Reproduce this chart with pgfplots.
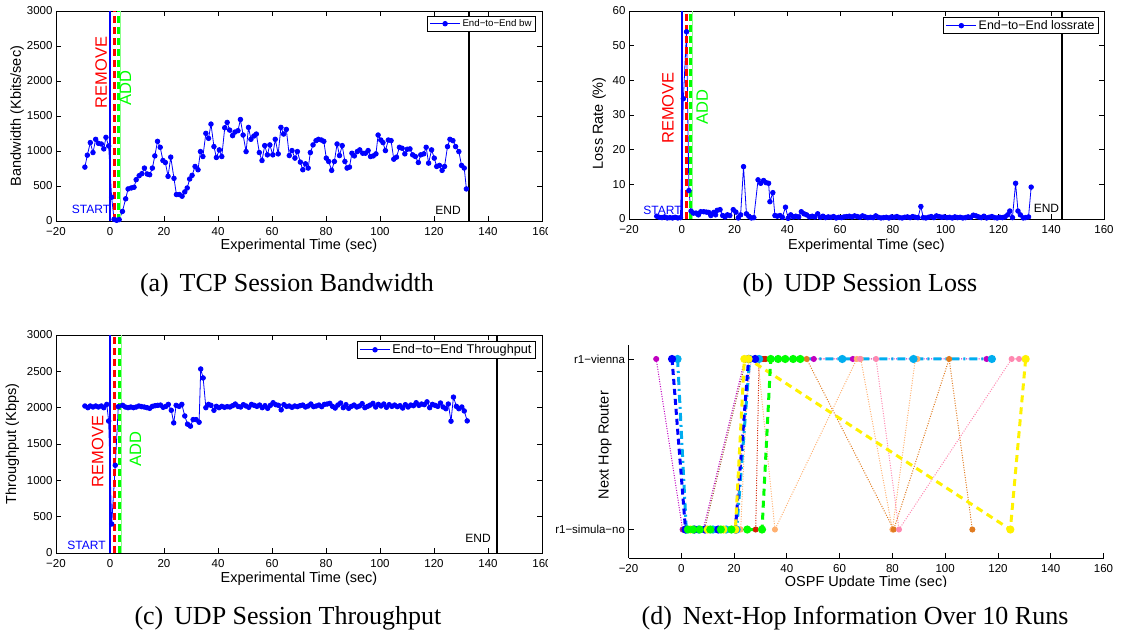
\documentclass[border=0pt]{standalone}
\usepackage{fontspec}
\setmainfont{Liberation Sans}
\newfontfamily\capfont{Liberation Serif}
\usepackage{pgfplots}
\pgfplotsset{compat=1.18}

\definecolor{mg}{RGB}{192,0,192}
\definecolor{dred}{RGB}{210,30,0}
\definecolor{brn}{RGB}{160,96,48}
\definecolor{org}{RGB}{224,123,32}
\definecolor{pch}{RGB}{255,176,112}
\definecolor{pnk}{RGB}{255,136,176}

\tikzset{
  lbl/.style={font=\fontsize{16.5}{18}\selectfont,rotate=90,anchor=center},
  sml/.style={font=\fontsize{12}{14}\selectfont,anchor=center},
}
\pgfplotsset{
  mstyle/.style={
    scale only axis,
    axis line style={line width=0.9pt},
    tick align=inside,
    major tick length=5pt,
    tick style={line width=0.8pt,black},
    xmin=-20, xmax=160,
    xtick={-20,0,...,160},
    xticklabels={−20,0,20,40,60,80,100,120,140,160},
    tick label style={font=\fontsize{11.5}{13}\selectfont},
    xticklabel style={anchor=center,yshift=-11pt,inner sep=1pt},
    label style={font=\fontsize{14.5}{16}\selectfont,inner sep=1pt},
    scaled ticks=false,
    legend cell align=left,
    legend image code/.code={\draw[mark repeat=2,mark phase=2,#1] plot coordinates {(0pt,0pt) (15pt,0pt) (30pt,0pt)};},
  },
  dat/.style={blue,line width=0.8pt,mark=*,mark size=2.3pt,mark options={fill=blue,draw=blue,solid}},
  startl/.style={blue,line width=2.5pt,forget plot},
  reml/.style={red,line width=3pt,dash pattern=on 7pt off 4pt,forget plot},
  addl/.style={green,line width=3pt,dash pattern=on 7pt off 4pt,forget plot},
  addt/.style={green!45,line width=0.8pt,forget plot},
  endl/.style={black,line width=2pt,forget plot},
  run/.style={mark=*,mark size=2.5pt,mark options={solid,fill=#1,draw=#1},color=#1},
  dots/.style={line width=1pt,dash pattern=on 1pt off 1.5pt},
}

\begin{document}
\begin{tikzpicture}[x=1pt,y=1pt]
\path[use as bounding box] (0,0) rectangle (1130,637);

% (a) TCP session bandwidth
\begin{axis}[mstyle, at={(56pt,416pt)}, anchor=south west,
  width=486pt, height=210pt,
  ymin=0, ymax=3000, ytick={0,500,...,3000},
  yticklabels={0,500,1000,1500,2000,2500,3000},
  xlabel={Experimental Time (sec)}, ylabel={Bandwidth (Kbits/sec)},
  xlabel style={at={(axis description cs:0.5,-0.118)},anchor=center},
  ylabel style={at={(axis description cs:-0.08,0.5)},anchor=center},
  legend style={at={(1,1)},anchor=north east,xshift=-6pt,yshift=-5pt,draw=black,line width=0.9pt,
    font=\fontsize{9.7}{11}\selectfont,inner xsep=2pt,inner ysep=1pt}]
\addplot[dat] coordinates {
(-9.3,770) (-8.4,940) (-7.3,1120) (-6.3,978) (-5.3,1167) (-4.3,1110) (-3.2,1100) (-2.3,1030)
(-1.5,1195) (-0.5,1072) (0.6,340) (1.5,24) (2.45,10) (3.4,20) (4.6,137) (5.8,317) (6.7,458)
(7.9,472) (8.9,482) (9.7,590) (10.8,647) (11.8,676) (12.75,756) (13.8,671) (14.7,661) (15.7,756)
(16.6,930) (17.6,1138) (18.6,1053) (19.6,864) (20.5,836) (21.5,638) (22.5,912) (23.7,609)
(24.6,378) (25.7,378) (26.7,354) (27.7,416) (28.6,472) (29.5,600) (30.4,652) (31.5,779)
(32.6,732) (33.5,992) (34.4,921) (35.5,1252) (36.5,1181) (37.4,1384) (38.5,1063) (39.4,907)
(40.5,1016) (41.4,921) (42.5,1332) (43.4,1408) (44.3,1299) (45.4,1219) (46.3,1271) (47.4,1290)
(48.3,1450) (49.3,1228) (50.4,992) (51.3,1337) (52.2,1167) (53.3,1214) (54.2,1242) (55.3,978)
(56.3,864) (57.3,1077) (58.3,945) (59.2,1087) (60.3,945) (61.2,1167) (62.3,959) (63.3,1337)
(64.3,1242) (65.3,1308) (66.4,935) (67.4,1006) (68.5,898) (69.4,992) (70.5,841) (71.4,732)
(72.4,817) (73.4,756) (74.2,978) (75.2,1087) (76.3,1148) (77.2,1167) (78.3,1157) (79.2,1138)
(80.1,898) (81.0,850) (82.1,723) (83.1,850) (84.1,1100) (85.0,935) (86.0,1077) (87.0,850)
(87.8,756) (88.7,770) (89.6,968) (90.5,930) (91.6,992) (92.5,1016) (93.6,968) (94.6,968)
(95.6,1006) (96.5,921) (97.5,930) (98.5,959) (99.3,1228) (100.3,1157) (101.1,1120) (102.0,1006)
(103.1,1157) (104.1,1148) (105.1,883) (106.1,912) (107.2,1053) (108.2,1039) (109.2,959)
(110.1,1025) (111.1,1030) (112.1,945) (113.1,921) (114.2,836) (115.1,945) (116.2,959)
(117.1,1053) (118.0,827) (119.1,1016) (120.1,898) (121.0,779) (122.0,794) (123.0,723)
(123.9,779) (125.0,1063) (125.9,1167) (127.0,1148) (128.0,1063) (129.2,992) (130.2,794)
(131.2,756) (132.0,458)};
\addlegendentry{End−to−End bw}
\addplot[startl] coordinates {(0,0) (0,3000)};
\addplot[reml] coordinates {(1.8,0) (1.8,3000)};
\addplot[addl] coordinates {(3.3,0) (3.3,3000)};
\addplot[addt] coordinates {(4.0,0) (4.0,3000)};
\addplot[endl] coordinates {(133,0) (133,3000)};
\node[lbl,red] at (axis cs:-3.3,2120) {REMOVE};
\node[lbl,green] at (axis cs:5.7,1900) {ADD};
\node[sml,blue] at (axis cs:-7,171) {START};
\node[sml] at (axis cs:125.2,150) {END};
\end{axis}

% (b) UDP session loss
\begin{axis}[mstyle, at={(629pt,418pt)}, anchor=south west,
  width=475pt, height=208pt,
  ymin=0, ymax=60, ytick={0,10,...,60},
  yticklabels={0,10,20,30,40,50,60},
  xlabel={Experimental Time (sec)}, ylabel={Loss Rate (\%)},
  xlabel style={at={(axis description cs:0.5,-0.128)},anchor=center},
  ylabel style={at={(axis description cs:-0.063,0.46)},anchor=center},
  legend style={at={(1,1)},anchor=north east,xshift=-5pt,yshift=-6pt,draw=black,line width=0.9pt,
    font=\fontsize{12.4}{14}\selectfont,inner xsep=2pt,inner ysep=1pt}]
\addplot[dat] coordinates {
(-9.5,0.8) (-8.5,0.5) (-7.5,0.4) (-6.5,0.6) (-5.5,0.3) (-4.5,0.4) (-3.5,0.3) (-2.5,0.5)
(-1.5,0.3) (-0.5,0.4) (0.6,34.7) (1.8,54) (2.7,8.2) (3.5,2.3) (4.4,1.7) (5.4,1.7) (6.3,1.2)
(7.2,2.1) (8.3,2.1) (9.3,2.0) (10.2,1.9) (11.0,1.0) (12.1,1.9) (12.8,1.2) (13.4,2.5) (14.5,2.7)
(15.5,1.0) (16.4,0.6) (17.3,1.2) (18.2,1.0) (19.5,2.7) (20.5,2.0) (21.4,0.3) (22.3,1.2)
(23.4,15.1) (24.5,1.5) (25.4,0.8) (26.4,0.3) (27.3,0.4) (28.9,11.3) (29.9,10.3) (31.0,11.1)
(31.9,10.5) (32.9,10.3) (33.4,5.0) (34.5,7.6) (35.3,1.0) (36.2,0.8) (37.2,1.0) (38.1,0.5)
(39.3,3.4) (40.3,0.2) (41.3,1.2) (42.3,0.6) (43.2,0.8) (44.3,0.6) (45.3,2.1) (46.3,1.5)
(47.3,1.2) (48.4,0.6) (49.4,0.8) (50.4,0.6) (51.5,1.5) (52.5,0.5) (53.5,0.8) (54.5,0.4)
(55.5,0.6) (56.5,0.5) (57.5,0.7) (58.5,0.3) (59.5,0.5) (60.5,0.4) (61.5,0.6) (62.5,0.7)
(63.5,0.8) (64.5,0.6) (65.5,0.9) (66.5,0.7) (67.5,0.5) (68.5,0.9) (69.5,0.6) (70.5,0.4)
(71.5,0.5) (72.5,0.4) (73.5,0.9) (74.5,0.5) (75.5,0.3) (76.5,0.4) (77.5,0.5) (78.5,0.3)
(79.5,0.6) (80.5,0.5) (81.5,0.7) (82.5,0.4) (83.5,0.3) (84.5,0.5) (85.5,0.6) (86.5,0.4)
(87.5,0.7) (88.5,0.5) (89.5,0.4) (90.6,3.6) (91.5,0.4) (92.5,0.3) (93.5,0.5) (94.5,0.7)
(95.5,0.4) (96.5,0.9) (97.5,0.7) (98.5,0.5) (99.5,0.6) (100.5,0.4) (101.5,0.5) (102.5,0.3)
(103.5,0.6) (104.5,0.4) (105.5,0.5) (106.5,0.3) (107.5,0.4) (108.5,0.6) (109.5,0.5)
(110.5,1.1) (111.5,0.9) (112.5,0.6) (113.5,0.4) (114.5,0.8) (115.5,0.3) (116.5,0.5)
(117.5,0.7) (118.5,0.4) (119.5,0.3) (120.5,0.5) (121.5,0.4) (122.5,0.6) (123.5,1.2)
(124.3,2.3) (125.3,0.4) (126.5,10.3) (127.4,2.3) (128.3,1.2) (129.4,0.3) (130.3,0.4)
(131.4,0.6) (132.4,9.2)};
\addlegendentry{End−to−End lossrate}
\addplot[startl] coordinates {(0,0) (0,60)};
\addplot[reml] coordinates {(1.8,0) (1.8,60)};
\addplot[addl] coordinates {(3.4,0) (3.4,60)};
\addplot[addt] coordinates {(4.1,0) (4.1,60)};
\addplot[endl] coordinates {(144,0) (144,60)};
\node[lbl,red] at (axis cs:-5.2,32) {REMOVE};
\node[lbl,green] at (axis cs:7.7,32.3) {ADD};
\node[sml,blue] at (axis cs:-7.3,2.6) {START};
\node[sml] at (axis cs:138.2,3.0) {END};
\end{axis}

% (c) UDP session throughput
\begin{axis}[mstyle, at={(56pt,84pt)}, anchor=south west,
  width=486pt, height=218pt,
  ymin=0, ymax=3000, ytick={0,500,...,3000},
  yticklabels={0,500,1000,1500,2000,2500,3000},
  xlabel={Experimental Time (sec)}, ylabel={Throughput (Kbps)},
  xlabel style={at={(axis description cs:0.5,-0.118)},anchor=center},
  ylabel style={at={(axis description cs:-0.09,0.5)},anchor=center},
  legend style={at={(1,1)},anchor=north east,xshift=-6pt,yshift=-6pt,draw=black,line width=0.9pt,
    font=\fontsize{12.7}{14}\selectfont,inner xsep=2pt,inner ysep=1pt}]
\addplot[dat] coordinates {
(-9.3,2023) (-8.2,2000) (-7.3,2023) (-6.3,2009) (-5.3,2023) (-4.3,2009) (-3.2,2023) (-2.3,2000)
(-1.2,2045) (-0.5,1816) (0.63,399) (1.96,1207) (3.07,2013) (4.7,2032) (5.7,2009) (6.7,2000)
(7.7,2009) (8.7,2000) (9.7,2009) (10.7,2023) (11.7,2014) (12.7,2009) (13.7,2000) (14.7,1991)
(15.7,2018) (16.7,2027) (17.7,2032) (18.7,2036) (19.7,2005) (20.7,2018) (21.6,2045) (22.7,1964)
(23.6,1791) (24.5,2032) (25.6,2018) (26.6,2045) (27.7,1886) (28.7,1773) (29.8,1745) (30.8,1836)
(31.9,1836) (33.0,1800) (33.6,2532) (34.5,2409) (35.5,2000) (36.5,2045) (37.4,2032) (38.5,1964)
(39.4,2018) (40.4,2000) (41.4,2018) (42.4,2005) (43.4,2014) (44.4,2009) (45.4,2027) (46.4,2050)
(47.4,2018) (48.4,2009) (49.4,2041) (50.4,2023) (51.4,2005) (52.4,2045) (53.4,2032) (54.4,2018)
(55.4,2036) (56.4,2000) (57.4,2027) (58.4,1991) (59.4,2032) (60.4,2068) (61.4,2041) (62.4,2032)
(63.4,1970) (64.4,2041) (65.4,2018) (66.4,2023) (67.4,2005) (68.4,2023) (69.4,2014) (70.4,2027)
(71.4,2036) (72.4,2009) (73.4,2023) (74.4,2050) (75.4,2014) (76.4,2023) (77.4,2036) (78.4,2014)
(79.4,2045) (80.4,2050) (81.4,2059) (82.4,2018) (83.4,1995) (84.4,2036) (85.4,2064) (86.4,2000)
(87.4,2041) (88.4,1991) (89.4,2018) (90.4,2036) (91.4,2009) (92.4,2023) (93.4,2055) (94.4,2000)
(95.4,2018) (96.4,2036) (97.4,2059) (98.4,2009) (99.4,2045) (100.4,2023) (101.4,2050)
(102.4,2005) (103.4,2041) (104.4,2018) (105.4,2036) (106.4,2014) (107.4,2027) (108.4,1995)
(109.4,2041) (110.4,2009) (111.4,2036) (112.4,2027) (113.4,2068) (114.4,2032) (115.4,2050)
(116.4,2041) (117.4,2080) (118.4,2000) (119.4,2045) (120.4,2032) (121.4,2018) (122.4,2064)
(123.4,2009) (124.4,1986) (125.3,2050) (126.3,1814) (127.2,2145) (128.3,2018) (129.2,1986)
(130.3,2009) (131.2,1955) (132.3,1818)};
\addlegendentry{End−to−End Throughput}
\addplot[startl] coordinates {(0,0) (0,3000)};
\addplot[reml] coordinates {(1.8,0) (1.8,3000)};
\addplot[addl] coordinates {(3.4,0) (3.4,3000)};
\addplot[addt] coordinates {(4.1,0) (4.1,3000)};
\addplot[endl] coordinates {(143.5,0) (143.5,3000)};
\node[lbl,red] at (axis cs:-4.6,1397) {REMOVE};
\node[lbl,green] at (axis cs:9.4,1430) {ADD};
\node[sml,blue] at (axis cs:-8.7,103) {START};
\node[sml] at (axis cs:136.3,200) {END};
\end{axis}

% subfigure crops of the 160 labels
\fill[white] (548,396) rectangle (562,414);
\fill[white] (548,62) rectangle (562,82);

% (d) next hop over 10 runs
\begin{axis}[mstyle, at={(628.5pt,79pt)}, anchor=south west,
  width=475pt, height=213pt,
  axis x line*=bottom, axis y line*=left,
  ymin=-0.167, ymax=1.082, ytick={0,1},
  yticklabels={r1−simula−no,r1−vienna},
  xlabel={OSPF Update Time (sec)}, ylabel={Next Hop Router},
  xlabel style={at={(axis description cs:0.5,-0.118)},anchor=center},
  ylabel style={at={(axis description cs:-0.049,0.53)},anchor=center}]
\addplot[run=mg,dots] coordinates {(-9.5,1) (0.5,0) (4,0) (8.3,0) (24.1,1) (50.2,1) (65,1) (115.7,1)};
\addplot[run=brn,dots] coordinates {(0.9,0) (7,0) (8.8,0) (24.6,1) (26.5,1) (31.5,1)};
\addplot[run=dred,dots] coordinates {(2,0) (13.3,0) (28.2,0) (29.5,1) (31,1) (32,1)};
\addplot[run=pch,dots] coordinates {(22.5,0) (25.5,1) (29,1) (35.5,0) (66.5,1) (68,1) (80,0) (88.7,1) (89.5,1)};
\addplot[run=org,dots] coordinates {(47.5,1) (80.5,0) (101.5,1) (110.3,0)};
\addplot[run=pnk,dots] coordinates {(2.3,0) (5,0) (8,0) (20,0) (26.5,1) (67.7,1) (73.8,1) (82.5,0) (125.2,1) (128,1)};
\addplot[run=cyan,line width=3pt,dash pattern=on 8pt off 4pt on 2pt off 4pt] coordinates {(-1.4,1) (1.9,0) (6.5,0) (12,0) (17,0) (21,0) (25.9,1) (29.5,1) (61,1) (88,1) (117.7,1)};
\addplot[run=blue,line width=3pt,dash pattern=on 6pt off 4pt] coordinates {(-3.5,1) (1.6,0) (5,0) (9,0) (14,0) (20.5,0) (25.5,1) (28,1)};
\addplot[run=yellow,line width=3pt,dash pattern=on 7pt off 5pt] coordinates {(3.5,0) (10,0) (16,0) (20.5,0) (23.9,1) (25.5,1) (124.7,0) (130.5,1)};
\addplot[run=green,line width=3pt,dash pattern=on 7pt off 5pt] coordinates {(2.5,0) (4.5,0) (7,0) (11,0) (15,0) (19,0) (25,0) (30.6,0) (33.9,1) (36.7,1) (39.4,1) (42.4,1) (45.1,1)};
\end{axis}

% crop of the (d) axis title
\fill[white] (600,36) rectangle (1130,50);

\node[font=\capfont\fontsize{26}{30}\selectfont] at (287,352) {(a)\, TCP Session Bandwidth};
\node[font=\capfont\fontsize{26}{30}\selectfont] at (860,352) {(b)\, UDP Session Loss};
\node[font=\capfont\fontsize{26}{30}\selectfont] at (288,19) {(c)\, UDP Session Throughput};
\node[font=\capfont\fontsize{26}{30}\selectfont] at (855,19) {(d)\, Next-Hop Information Over 10 Runs};
\end{tikzpicture}
\end{document}
